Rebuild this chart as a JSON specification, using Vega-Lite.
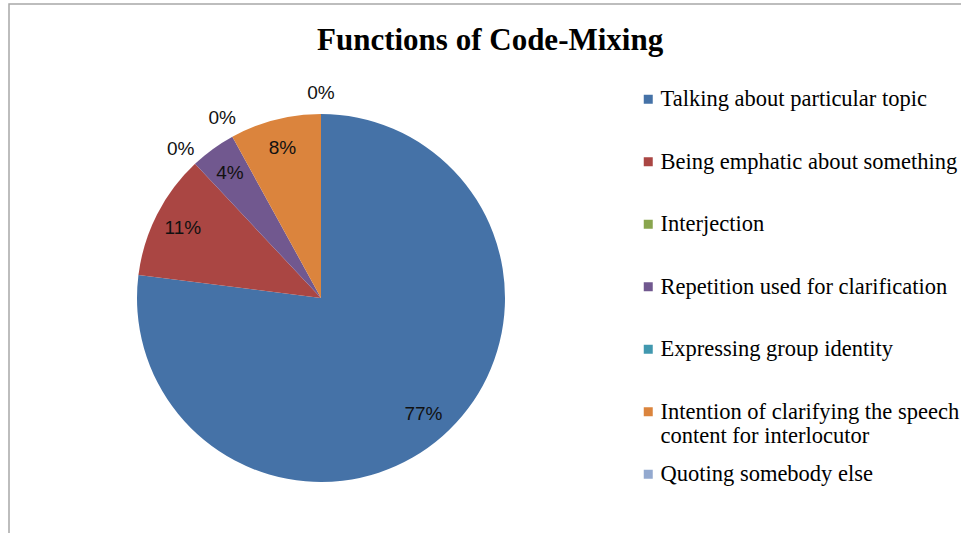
{
  "$schema": "https://vega.github.io/schema/vega-lite/v6.json",
  "width": 970,
  "height": 545,
  "autosize": {"type": "none"},
  "padding": {"left": 9, "top": 4, "right": 0, "bottom": 0},
  "background": "white",
  "view": {"stroke": "#a8a8a8", "strokeWidth": 1.5},
  "config": {
    "view": {"stroke": "#a8a8a8", "strokeWidth": 1.5},
    "style": {"cell": {"stroke": "#a8a8a8", "strokeWidth": 1.5}},
    "legend": {
      "orient": "none",
      "legendX": 628,
      "legendY": 84,
      "padding": 0,
      "symbolType": "square",
      "symbolSize": 81,
      "symbolStrokeWidth": 0,
      "labelFont": "Liberation Serif",
      "labelFontSize": 22.5,
      "labelColor": "#000000",
      "labelOffset": 1,
      "labelLimit": 400,
      "rowPadding": 14.5,
      "title": null
    }
  },
  "title": {
    "text": "Functions of Code-Mixing",
    "font": "Liberation Serif",
    "fontSize": 31,
    "fontWeight": "bold",
    "color": "#000000",
    "anchor": "start",
    "frame": "group",
    "dx": 308,
    "dy": 57
  },
  "data": {
    "values": [
      {"cat": "Talking about particular topic", "idx": 1, "pct": 0.77},
      {"cat": "Being emphatic about something", "idx": 2, "pct": 0.11},
      {"cat": "Interjection", "idx": 3, "pct": 0.0},
      {"cat": "Repetition used for clarification", "idx": 4, "pct": 0.04},
      {"cat": "Expressing group identity", "idx": 5, "pct": 0.0},
      {"cat": "Intention of clarifying the speech content for interlocutor", "idx": 6, "pct": 0.08},
      {"cat": "Quoting somebody else", "idx": 7, "pct": 0.0}
    ]
  },
  "encoding": {
    "theta": {"field": "pct", "type": "quantitative", "stack": true},
    "order": {"field": "idx", "type": "quantitative"}
  },
  "layer": [
    {
      "mark": {"type": "arc", "outerRadius": 184, "x": 312, "y": 294},
      "encoding": {
        "color": {
          "field": "cat",
          "type": "nominal",
          "scale": {
            "domain": [
              "Talking about particular topic",
              "Being emphatic about something",
              "Interjection",
              "Repetition used for clarification",
              "Expressing group identity",
              "Intention of clarifying the speech content for interlocutor",
              "Quoting somebody else"
            ],
            "range": ["#4572A7", "#AA4643", "#89A54E", "#71588F", "#4198AF", "#DB843D", "#93A9CF"]
          },
          "legend": {
            "labelExpr": "datum.label == 'Intention of clarifying the speech content for interlocutor' ? ['Intention of clarifying the speech', 'content for interlocutor'] : [datum.label, '']"
          }
        }
      }
    },
    {
      "mark": {"type": "text", "radius": 155, "x": 312, "y": 294, "font": "Liberation Sans", "fontSize": 19, "color": "#111111"},
      "encoding": {
        "text": {
          "condition": {"test": "datum.pct > 0", "field": "pct", "type": "quantitative", "format": ".0%"},
          "value": ""
        }
      }
    },
    {
      "mark": {"type": "text", "radius": 205, "x": 312, "y": 294, "font": "Liberation Sans", "fontSize": 19, "color": "#111111"},
      "encoding": {
        "text": {
          "condition": {"test": "datum.pct == 0", "field": "pct", "type": "quantitative", "format": ".0%"},
          "value": ""
        }
      }
    }
  ]
}
